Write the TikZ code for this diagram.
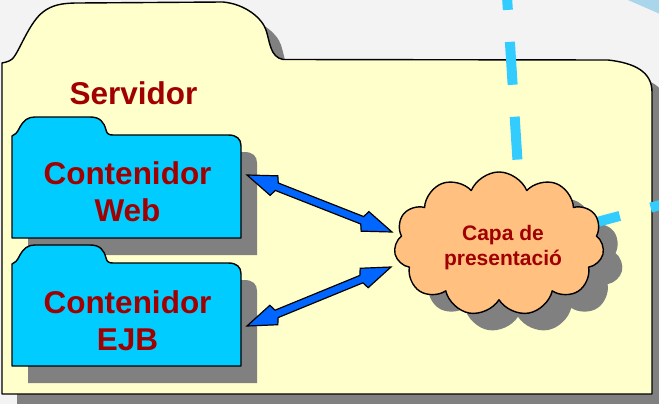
\documentclass[tikz,border=0pt]{standalone}
\usepackage{fontspec}
\setmainfont{Liberation Sans}
\usetikzlibrary{calc,shapes.symbols}
\definecolor{bgcol}{HTML}{F3F3F3}
\definecolor{folderyellow}{HTML}{FFFFCC}
\definecolor{foldercyan}{HTML}{00CCFF}
\definecolor{shadowgray}{HTML}{808080}
\definecolor{textred}{HTML}{A00000}
\definecolor{cloudorange}{HTML}{FFC080}
\definecolor{arrowblue}{HTML}{0066FF}
\definecolor{dashblue}{HTML}{33CCFF}
\definecolor{cornerblue}{HTML}{A9D6EA}
\newcommand\bigfolderpath[1]{%
  \path[#1] (2,394) -- (2,63) .. controls (7,62) and (11,61) .. (14,57)
    .. controls (21,47) and (30,22) .. (43,12)
    .. controls (52,5) and (62,3) .. (78,3) -- (223,2)
    .. controls (245,4) and (262,18) .. (266,30)
    .. controls (270,42) and (270,57) .. (283,59.5) -- (608,60)
    .. controls (635,63) and (652,72) .. (652,92) -- (652,394) -- cycle;}
\newcommand\smallfolderpath[1]{%
  \path[#1] (12,238) -- (12,136) .. controls (15,135) and (17,133) .. (20,127)
    .. controls (24,120) and (28,117) .. (35,117) -- (90,117)
    .. controls (100,117) and (104,122) .. (106,130)
    .. controls (107,134) and (109,135) .. (113,135) -- (228,135)
    .. controls (237,135) and (241,139) .. (241,146) -- (241,238) -- cycle;}
\newcommand\dblarrow[2]{%
  \path[blockarrow] (#1) -- ($(#1)!29pt!(#2)!10.5pt!90:(#2)$)
    -- ($(#1)!32pt!(#2)!4pt!90:(#2)$) -- ($(#2)!32pt!(#1)!4pt!-90:(#1)$)
    -- ($(#2)!29pt!(#1)!10.5pt!-90:(#1)$) -- (#2)
    -- ($(#2)!29pt!(#1)!10.5pt!90:(#1)$) -- ($(#2)!32pt!(#1)!4pt!90:(#1)$)
    -- ($(#1)!32pt!(#2)!4pt!-90:(#2)$) -- ($(#1)!29pt!(#2)!10.5pt!-90:(#2)$)
    -- cycle;}
\begin{document}
\begin{tikzpicture}[x=1pt,y=-1pt,
  outline/.style={draw=black,line width=1.4pt,line join=round},
  bigtext/.style={text=textred,inner sep=0pt,align=center,
    font=\fontsize{31.5}{37.5}\selectfont\bfseries},
  smalltext/.style={text=textred,inner sep=0pt,align=center,
    font=\fontsize{21}{25}\selectfont\bfseries},
  blockarrow/.style={fill=arrowblue,draw=black,line width=1.2pt,line join=miter},
  dashline/.style={draw=dashblue,line width=10pt,dash pattern=on 43pt off 32pt},
  cloudshape/.style={cloud,cloud puffs=11,cloud puff arc=135,cloud ignores aspect,
    minimum width=210pt,minimum height=144pt,inner sep=0pt}]
\useasboundingbox (0,0) rectangle (659,404);
\clip (0,0) rectangle (659,404);
\fill[bgcol] (0,0) rectangle (659,404);
\fill[cornerblue] (628,0) -- (660,0) -- (660,14) -- cycle;
% Servidor folder
\bigfolderpath{fill=shadowgray,shift={(15,15)}}
\bigfolderpath{fill=folderyellow,outline}
\node[bigtext,anchor=base] (servidor) at (133.5,105) {Servidor};
% container folders
\smallfolderpath{fill=shadowgray,shift={(16,17)}}
\smallfolderpath{fill=foldercyan,outline}
\smallfolderpath{fill=shadowgray,shift={(16,145)}}
\smallfolderpath{fill=foldercyan,outline,shift={(0,128)}}
% cloud shadow
\node[cloudshape,fill=shadowgray] (capashadow) at (518,261) {};
% dashed lines
\coordinate (vtop) at (505.1,-33);
\coordinate (hub) at (522.7,242);
\coordinate (rend) at (720,189);
\draw[dashline] (vtop) -- (hub);
\draw[dashline,dash phase=17.5pt] (hub) -- (rend);
% cloud
\node[cloudshape,fill=cloudorange,outline] (capa) at (499,244) {};
% arrows
\coordinate (w1) at (247,175);
\coordinate (c1) at (392,232);
\coordinate (e1) at (247,326);
\coordinate (c2) at (391,267);
\dblarrow{w1}{c1}
\dblarrow{e1}{c2}
% texts
\node[bigtext,anchor=north] (webtxt) at (127.5,161) {Contenidor\\Web};
\node[bigtext,anchor=north] (ejbtxt) at (127.5,290) {Contenidor\\EJB};
\node[smalltext,anchor=north] (capatxt) at (503,224.7) {Capa de\\presentació};
\end{tikzpicture}
\end{document}
